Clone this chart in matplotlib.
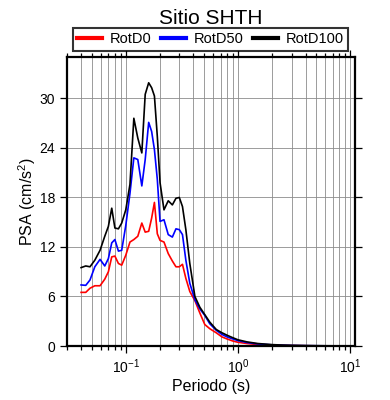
import matplotlib

matplotlib.use("Agg")
import matplotlib.pyplot as plt
from matplotlib.ticker import LogLocator, MultipleLocator, NullFormatter

# periods (s) and spectral accelerations (cm/s^2)
periods = [0.040, 0.044, 0.048, 0.053, 0.059, 0.065, 0.070, 0.075, 0.080, 0.086,
           0.092, 0.100, 0.109, 0.118, 0.128, 0.139, 0.149, 0.160, 0.170, 0.180,
           0.191, 0.202, 0.219, 0.239, 0.260, 0.280, 0.300, 0.320, 0.343, 0.372,
           0.413, 0.457, 0.506, 0.560, 0.640, 0.720, 0.800, 0.900, 1.00, 1.20,
           1.50, 2.00, 2.50, 3.00, 4.00, 5.00, 6.00, 8.00, 10.0]

rotd100 = [9.5, 9.7, 9.6, 10.4, 11.6, 13.3, 14.5, 16.7, 14.3, 14.2,
           14.9, 16.5, 19.6, 27.6, 25.2, 23.4, 30.5, 31.9, 31.3, 30.3,
           25.4, 19.8, 16.5, 17.6, 17.1, 17.9, 18.0, 16.9, 14.1, 10.0,
           6.0, 4.7, 3.8, 2.9, 2.0, 1.6, 1.3, 1.0, 0.75, 0.5,
           0.3, 0.17, 0.11, 0.08, 0.05, 0.035, 0.025, 0.015, 0.01]

rotd50 = [7.4, 7.35, 8.0, 9.6, 10.5, 9.7, 10.6, 12.5, 12.9, 11.5,
          11.6, 14.6, 18.5, 22.8, 22.6, 19.4, 22.6, 27.1, 26.0, 23.8,
          20.2, 15.1, 15.3, 13.5, 13.2, 14.2, 14.1, 13.5, 10.4, 7.6,
          5.6, 4.5, 3.7, 2.7, 1.9, 1.4, 1.1, 0.85, 0.65, 0.42,
          0.25, 0.14, 0.09, 0.06, 0.04, 0.03, 0.02, 0.012, 0.008]

rotd0 = [6.5, 6.5, 7.0, 7.3, 7.3, 8.1, 9.0, 10.8, 10.9, 10.0,
         9.8, 11.0, 12.6, 12.9, 13.3, 14.9, 13.8, 13.9, 15.5, 17.4,
         13.6, 12.8, 12.6, 11.2, 10.3, 9.6, 9.6, 9.9, 8.2, 6.6,
         5.5, 4.0, 2.6, 2.1, 1.6, 1.1, 0.85, 0.6, 0.45, 0.3,
         0.18, 0.1, 0.07, 0.05, 0.03, 0.02, 0.015, 0.01, 0.006]

plt.rcParams["font.family"] = ["Liberation Sans", "DejaVu Sans"]
plt.rcParams["mathtext.fontset"] = "custom"
plt.rcParams["mathtext.rm"] = "Liberation Sans"

fig = plt.figure(figsize=(3.9, 4.0), dpi=100)
ax = fig.add_axes([0.172, 0.135, 0.738, 0.722])

ax.plot(periods, rotd0, color="red", linewidth=1.2, label="RotD0")
ax.plot(periods, rotd50, color="blue", linewidth=1.2, label="RotD50")
ax.plot(periods, rotd100, color="black", linewidth=1.2, label="RotD100")

ax.set_xscale("log")
ax.set_xlim(0.03, 11)
ax.set_ylim(0, 35)
ax.xaxis.set_major_locator(LogLocator(base=10))
ax.xaxis.set_minor_locator(LogLocator(base=10, subs=range(2, 10)))
ax.xaxis.set_minor_formatter(NullFormatter())
ax.yaxis.set_major_locator(MultipleLocator(6))

ax.grid(True, which="both", axis="x", color="#8c8c8c", linewidth=0.6)
ax.grid(True, which="major", axis="y", color="#8c8c8c", linewidth=0.6)
ax.set_axisbelow(True)

for side in ax.spines.values():
    side.set_linewidth(1.6)
ax.tick_params(which="both", direction="out", top=True, right=True,
               labelsize=10, width=0.9)
ax.tick_params(which="major", length=5)
ax.tick_params(which="minor", length=3)

ax.set_xlabel("Periodo (s)", fontsize=11.5, labelpad=2)
ax.set_ylabel("PSA (cm/s$^2$)", fontsize=11.5, labelpad=1)
ax.set_title("Sitio SHTH", fontsize=15, pad=24)

leg = ax.legend(loc="lower left", bbox_to_anchor=(0.021, 1.022, 0.955, 0.076),
                mode="expand", ncol=3, fontsize=10.5, frameon=True, fancybox=False,
                borderaxespad=0, handlelength=1.7, handletextpad=0.5,
                borderpad=0.3)
leg.get_frame().set_edgecolor("black")
leg.get_frame().set_linewidth(1.5)
for line in leg.get_lines():
    line.set_linewidth(3)

fig.savefig("out.png")
